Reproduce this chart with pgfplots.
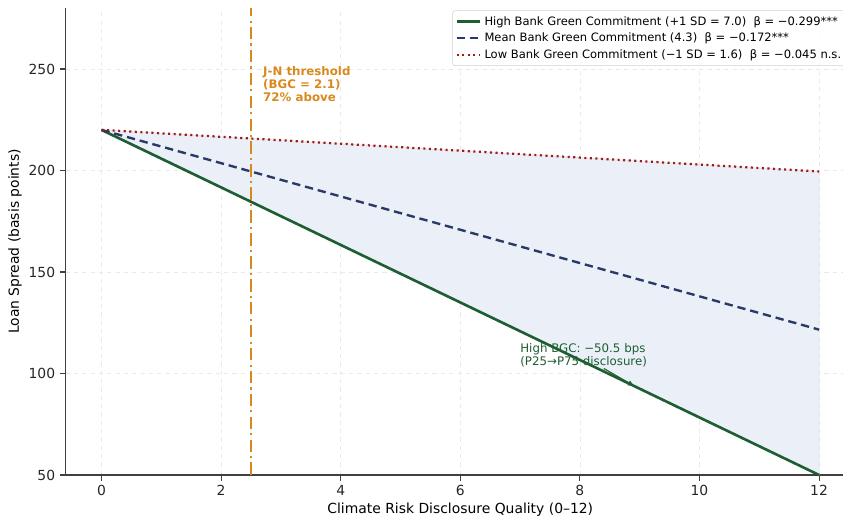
\documentclass[border=0pt]{standalone}
\usepackage{fontspec}
\setmainfont{DejaVu Sans}
\usepackage{pgfplots}
\pgfplotsset{compat=1.18}
\definecolor{cgreen}{HTML}{1E5E32}
\definecolor{cnavy}{HTML}{2A3A66}
\definecolor{cred}{HTML}{9E1B1B}
\definecolor{corange}{HTML}{D9891C}
\definecolor{cfill}{HTML}{EBF0F8}
\begin{document}
\begin{tikzpicture}
\begin{axis}[
  scale only axis,
  width=568pt, height=336pt,
  xmin=-0.6, xmax=12.6, ymin=50, ymax=280,
  xtick={0,2,4,6,8,10,12}, ytick={50,100,150,200,250},
  axis x line*=bottom, axis y line*=left,
  axis line style={draw=black!75, line width=0.9pt},
  tick style={draw=black!75, line width=0.8pt},
  tick align=outside, major tick length=4pt,
  grid=major, major grid style={dashed, gray!17, line width=0.5pt},
  /pgf/number format/assume math mode=true,
  tick label style={font=\fontsize{10}{12}\selectfont, text=black!85},
  xlabel={Climate Risk Disclosure Quality (0–12)},
  ylabel={Loan Spread (basis points)},
  label style={font=\fontsize{10}{12}\selectfont},
  xlabel style={yshift=2pt},
  ylabel style={yshift=-2pt},
  legend style={at={(0.997,0.995)}, anchor=north east, xshift=-4pt, draw=gray!35, rounded corners=2pt,
    fill=white, fill opacity=0.85, text opacity=1,
    font=\fontsize{8.3}{10}\selectfont, row sep=0pt, inner sep=2pt},
  legend cell align=left,
  clip=false,
]
\addplot[draw=cfill!70!gray!60, fill=cfill, line width=0.4pt, forget plot] coordinates {(0,220) (12,50) (12,199.5) (0,220)};
\addplot[cgreen, line width=1.9pt] coordinates {(0,220) (12,50)};
\addlegendentry{High Bank Green Commitment (+1 SD = 7.0)\ \ β = −0.299***}
\addplot[cnavy, line width=1.7pt, dash pattern=on 6pt off 3.5pt] coordinates {(0,220) (12,121.6)};
\addlegendentry{Mean Bank Green Commitment (4.3)\ \ β = −0.172***}
\addplot[cred, line width=1.6pt, dash pattern=on 1.5pt off 2.5pt] coordinates {(0,220) (12,199.5)};
\addlegendentry{Low Bank Green Commitment (−1 SD = 1.6)\ \ β = −0.045 n.s.}
\addplot[corange, line width=1.5pt, dash pattern=on 9pt off 3pt on 1.5pt off 3pt, forget plot] coordinates {(2.5,50) (2.5,280)};
\node[anchor=north west, align=left, text=corange, font=\bfseries\fontsize{8.5}{9.5}\selectfont, inner sep=0pt] at (axis cs:2.7,251.5) {J-N threshold\\(BGC = 2.1)\\72\% above};
\draw[-latex, cgreen, line width=0.8pt] (axis cs:8.4,102.5) -- (axis cs:8.92,93.6);
\node[anchor=north west, align=left, text=cgreen, font=\fontsize{8.5}{9.5}\selectfont, inner sep=0pt] at (axis cs:7.0,115) {High BGC: −50.5 bps\\(P25→P75 disclosure)};
\end{axis}
\pgfresetboundingbox
\path (-47.2pt,-29.5pt) rectangle (559.4pt,341.8pt);
\end{tikzpicture}
\end{document}
